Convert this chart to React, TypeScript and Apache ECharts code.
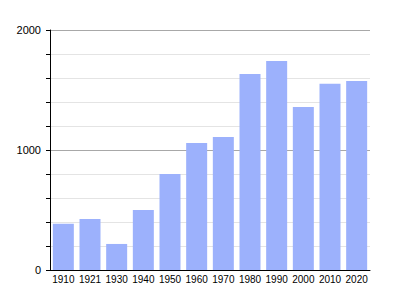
import React, { useEffect, useRef } from "react";
import * as echarts from "echarts";

const years = ["1910", "1921", "1930", "1940", "1950", "1960", "1970", "1980", "1990", "2000", "2010", "2020"];
const population = [386, 425, 217, 500, 800, 1058, 1108, 1633, 1742, 1358, 1553, 1575];

export default function App() {
  const ref = useRef<HTMLDivElement>(null);
  useEffect(() => {
    const chart = echarts.init(ref.current!, null, { renderer: "svg" });
    chart.setOption({
      animation: false,
      grid: { left: 50, right: 30, top: 30, bottom: 30, containLabel: false },
      xAxis: {
        type: "category",
        data: years,
        axisLine: { lineStyle: { color: "#000", width: 1 } },
        axisTick: { show: false },
        axisLabel: { color: "#000", fontSize: 10, fontFamily: "Liberation Sans", margin: 4, interval: 0 },
      },
      yAxis: {
        type: "value",
        min: 0,
        max: 2000,
        interval: 200,
        axisLine: { show: true, lineStyle: { color: "#000", width: 1 } },
        axisTick: { show: true, length: 4, lineStyle: { color: "#000" } },
        axisLabel: {
          color: "#000",
          fontSize: 11,
          fontFamily: "Liberation Sans",
          margin: 9,
          formatter: (v: number) => (v % 1000 === 0 ? String(v) : ""),
        },
        splitLine: {
          show: true,
          lineStyle: { color: ["#a8a8a8", "#e4e4e4", "#e4e4e4", "#e4e4e4", "#e4e4e4"], width: 1 },
        },
      },
      series: [
        {
          type: "bar",
          data: population,
          barWidth: 21,
          itemStyle: { color: "#9cb1fc" },
        },
      ],
    });
    return () => chart.dispose();
  }, []);
  return (
    <div
      ref={ref}
      style={{ position: "fixed", left: 0, top: 0, width: 400, height: 300, background: "#fff" }}
    />
  );
}
